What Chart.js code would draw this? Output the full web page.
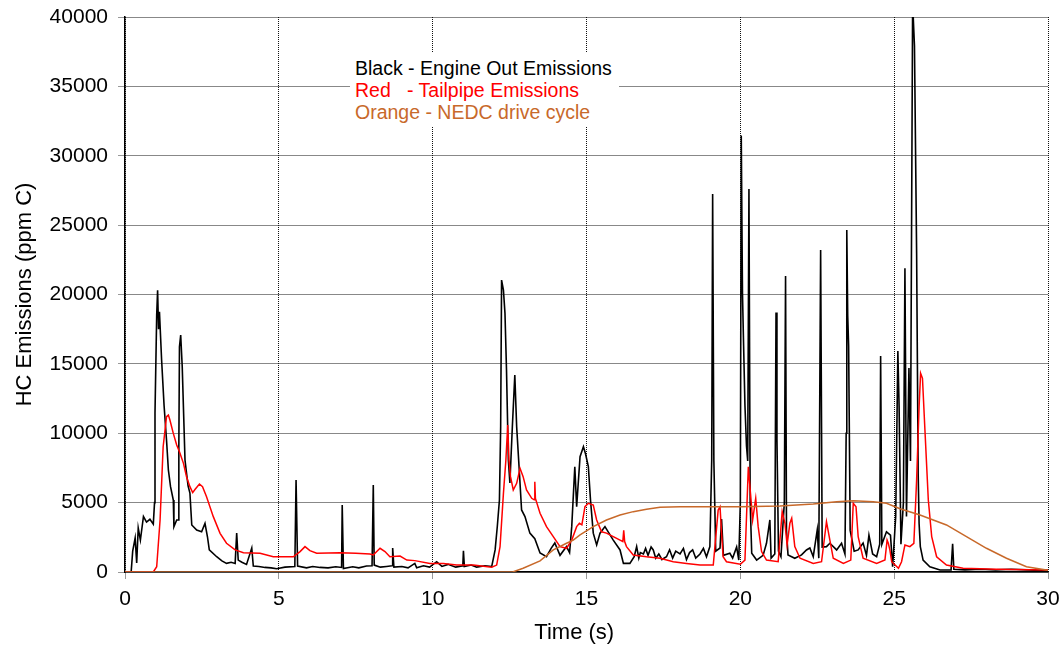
<!DOCTYPE html>
<html>
<head>
<meta charset="utf-8">
<script src="https://cdn.jsdelivr.net/npm/chart.js@4.4.1/dist/chart.umd.min.js"></script>
<style>
  body { margin: 0; background: #fff; }
  #wrap { position: relative; width: 1062px; height: 649px; }
  #notes {
    position: absolute; left: 350px; top: 53px; width: 264px;
    background: #fff; padding: 4px 0 4px 5px;
    font: 19.5px "Liberation Sans", Arial, sans-serif; line-height: 22px;
    white-space: pre;
  }
</style>
</head>
<body>
<div id="wrap">
  <canvas id="chart" width="1062" height="649"></canvas>
  <div id="notes"><div style="color:#000">Black - Engine Out Emissions</div><div style="color:#ff0000">Red   - Tailpipe Emissions</div><div style="color:#c8692a">Orange - NEDC drive cycle</div></div>
</div>
<script>
// engine out HC (black)
const engineTime = [0, 0.2, 0.25, 0.33, 0.38, 0.43, 0.5, 0.6, 0.7, 0.81, 0.92, 0.96, 0.975, 1.03, 1.06, 1.09, 1.12, 1.19, 1.27, 1.35,
  1.41, 1.48, 1.57, 1.59, 1.68, 1.73, 1.75, 1.77, 1.81, 1.86, 1.95, 2.05, 2.11, 2.17, 2.33, 2.49, 2.6, 2.68, 2.74, 2.98,
  3.15, 3.3, 3.45, 3.58, 3.63, 3.68, 3.8, 3.95, 4.12, 4.17, 4.35, 4.55, 4.75, 4.93, 5.2, 5.52, 5.56, 5.61, 5.9, 6.1,
  6.34, 6.6, 6.85, 7.04, 7.06, 7.1, 7.4, 7.6, 7.85, 8.03, 8.07, 8.1, 8.3, 8.5, 8.68, 8.7, 8.74, 9.0, 9.2, 9.42,
  9.48, 9.7, 9.9, 10.13, 10.3, 10.5, 10.75, 10.98, 11.0, 11.03, 11.25, 11.43, 11.7, 11.92, 12.03, 12.1, 12.17, 12.21, 12.24, 12.3,
  12.35, 12.4, 12.46, 12.51, 12.59, 12.67, 12.73, 12.82, 12.89, 13.0, 13.16, 13.32, 13.49, 13.7, 13.85, 13.97, 14.14, 14.35, 14.45, 14.52,
  14.62, 14.68, 14.79, 14.9, 14.97, 15.06, 15.13, 15.22, 15.33, 15.44, 15.6, 15.87, 16.09, 16.2, 16.41, 16.55, 16.63, 16.7, 16.75, 16.85,
  16.92, 17.0, 17.1, 17.17, 17.25, 17.35, 17.45, 17.6, 17.7, 17.8, 17.9, 18.04, 18.15, 18.25, 18.35, 18.45, 18.55, 18.69, 18.8, 18.9,
  19.01, 19.07, 19.1, 19.14, 19.2, 19.34, 19.39, 19.45, 19.66, 19.75, 19.88, 19.95,
  20.0, 20.03, 20.07, 20.1, 20.15, 20.2, 20.24, 20.28, 20.32, 20.37, 20.53, 20.74, 20.85, 20.96, 21.0, 21.12, 21.16, 21.19, 21.24, 21.32,
  21.43, 21.47, 21.5, 21.55, 21.77, 21.99, 22.15, 22.26, 22.37, 22.5, 22.55, 22.61, 22.66, 22.8, 22.91, 23.13, 23.29, 23.4, 23.44, 23.46,
  23.49, 23.52, 23.57, 23.7, 23.83, 23.99, 24.1, 24.18, 24.3, 24.43, 24.53, 24.56, 24.6, 24.75, 24.88, 24.95, 25.05, 25.12, 25.16, 25.22,
  25.3, 25.35, 25.4, 25.48, 25.53, 25.6, 25.66, 25.73, 25.75, 25.78, 25.81, 25.85, 25.94, 26.16, 26.49, 26.85, 26.9, 26.94, 27.3, 27.8,
  28.3, 28.8, 29.3, 30];
const engineHC = [0, 0, 1500, 2450, 650, 3170, 2300, 4000, 3600, 3800, 3450, 5000, 11450, 18500, 20300, 17500, 18760, 15280, 12000, 9500,
  7350, 6150, 5190, 3260, 3750, 3750, 9000, 16240, 17080, 14800, 8070, 6200, 5690, 3390, 3030, 2900, 3500, 2540, 1590, 1100,
  800, 620, 700, 620, 2800, 860, 700, 550, 1730, 430, 400, 330, 300, 240, 350, 400, 6630, 430, 300, 400,
  330, 300, 380, 330, 4830, 250, 380, 300, 430, 450, 6270, 500, 350, 400, 450, 1730, 350, 400, 300, 620,
  300, 450, 350, 740, 400, 550, 350, 450, 1530, 400, 500, 350, 450, 400, 1590, 3260, 5190, 10470, 21040, 20320,
  18660, 14560, 8070, 6410, 10470, 14200, 10470, 7130, 4470, 3990, 2800, 2400, 1370, 1100, 1700, 2090, 1200, 1830, 1400, 3270,
  7590, 4700, 8310, 9030, 8500, 7590, 5190, 2800, 1950, 2800, 3270, 2300, 1590, 620, 620, 1100, 1830, 1000, 1400, 1300,
  1700, 1200, 1800, 1590, 1000, 1300, 900, 1100, 1600, 1000, 1500, 1300, 1700, 900, 1400, 1600, 1000, 1300, 1700, 1100,
  1830, 8070, 27240, 8000, 1500, 1730, 3820, 1200, 1350, 1000, 1800, 860,
  5000, 31460, 20060, 16940, 12000, 9080, 8000, 27600, 5000, 1350, 860, 1200, 2070, 3750, 1000, 1300, 18700, 9590, 1500, 1100,
  5000, 21330, 3000, 1230, 990, 1230, 1590, 1730, 1100, 3030, 1000, 23200, 1800, 1830, 2070, 1590, 2070, 1300, 10000, 24650,
  18490, 16290, 3000, 1500, 1590, 2090, 1200, 2660, 1300, 1100, 2000, 15570, 2000, 2900, 2660, 380, 4000, 15930, 11960, 2000,
  5000, 21900, 4000, 14700, 8000, 41000, 37900, 22950, 16600, 7110, 3510, 1830, 860, 380, 140, 150, 2030, 200, 150, 200,
  150, 200, 150, 100];

// tailpipe HC (red)
const tailTime = [0, 0.92, 1.03, 1.14, 1.24, 1.35, 1.41, 1.46, 1.57, 1.68, 1.77, 1.9, 2.0, 2.11, 2.2, 2.28, 2.42, 2.52, 2.65, 2.87,
  3.09, 3.3, 3.58, 3.85, 4.39, 4.82, 5.47, 5.69, 5.85, 6.01, 6.23, 6.99, 7.5, 7.96, 8.07, 8.29, 8.45, 8.61, 8.94, 9.16,
  9.42, 9.91, 10.35, 10.78, 11.32, 11.92, 12.08, 12.19, 12.3, 12.38, 12.44, 12.48, 12.53, 12.62, 12.73, 12.84, 12.94, 13.05, 13.22, 13.3,
  13.32, 13.34, 13.49, 13.7, 13.92, 14.14, 14.35, 14.52, 14.68, 14.77, 14.85, 14.95, 15.06, 15.22, 15.33, 15.49, 15.65, 15.87, 16.09, 16.18,
  16.21, 16.24, 16.3, 16.52, 16.95, 17.39, 17.82, 18.25, 18.69, 19.07, 19.12, 19.28, 19.34, 19.39, 19.44, 19.55, 20.0, 20.15, 20.26, 20.33,
  20.4, 20.5, 20.58, 20.69, 20.85, 21.23, 21.36, 21.45, 21.52, 21.61, 21.67, 21.77, 21.94, 22.37, 22.64, 22.8, 22.91, 23.02, 23.35, 23.59,
  23.67, 23.76, 23.83, 23.99, 24.43, 24.7, 24.77, 24.81, 24.86, 24.92, 25.14, 25.24, 25.35, 25.51, 25.64, 25.73, 25.81, 25.86, 25.92, 26.0,
  26.11, 26.22, 26.38, 26.7, 27.24, 28.33, 29.95, 30];
const tailHC = [0, 0, 380, 3750, 9030, 11190, 11310, 10950, 9990, 9150, 8670, 7830, 6870, 6150, 5720, 5960, 6340, 6150, 5430, 3990,
  2790, 2070, 1590, 1390, 1350, 1100, 1100, 1470, 1830, 1540, 1350, 1390, 1350, 1300, 1230, 1710, 1470, 1100, 1150, 860,
  820, 620, 620, 500, 500, 340, 500, 1830, 5670, 8070, 10590, 8070, 6870, 5910, 6390, 7470, 6870, 5910, 5310, 5200,
  6500, 5300, 4230, 3270, 2550, 1830, 1710, 2300, 3270, 3510, 3400, 4710, 4950, 4830, 3750, 2900, 2800, 2550, 2300, 2200,
  3000, 2200, 1830, 1230, 1100, 990, 740, 620, 500, 500, 500, 4470, 4700, 2800, 1100, 740, 560, 860, 7590, 5670,
  3750, 5310, 3270, 1470, 860, 740, 4350, 3510, 1950, 3510, 3870, 1830, 990, 620, 740, 3630, 2300, 990, 620, 860,
  4950, 4700, 2550, 990, 620, 860, 2300, 2070, 1590, 740, 270, 740, 1950, 1830, 2070, 6630, 11910, 14320, 13960, 10230,
  5190, 2550, 1100, 500, 270, 200, 150, 150];

// NEDC drive cycle (orange)
const cycleTime = [0, 12.6, 12.94, 13.49, 13.92, 14.35, 14.57, 14.79, 15.22, 15.65, 16.09, 16.52, 16.95, 17.39, 18.04, 19.34, 20.0, 21.29, 22.37, 23.13,
  23.67, 24.32, 24.75, 25.19, 25.84, 26.7, 27.35, 28.0, 28.65, 29.3, 29.95, 30];
const cycleHC = [0, 0, 270, 800, 1590, 2070, 2300, 2670, 3270, 3750, 4110, 4350, 4520, 4660, 4700, 4700, 4700, 4760, 4900, 5070,
  5140, 5070, 4950, 4560, 4110, 3390, 2550, 1710, 990, 380, 140, 130];

const yTicks = [0, 5000, 10000, 15000, 20000, 25000, 30000, 35000, 40000];
const xTicks = [0, 5, 10, 15, 20, 25, 30];

function toPoints(xs, ys) {
    return xs.map((x, i) => ({ x: x, y: ys[i] }));
}

const FONT = '"Liberation Sans", Arial, sans-serif';
Chart.defaults.color = '#000';
Chart.defaults.font.family = FONT;

const gridOpts = {
    color: '#111',
    lineWidth: 1,
    tickColor: '#999',
    tickLength: 7,
    tickBorderDash: []
};

new Chart(document.getElementById('chart').getContext('2d'), {
    type: 'line',
    data: {
        datasets: [{
            label: 'Orange - NEDC drive cycle',
            data: toPoints(cycleTime, cycleHC),
            borderColor: '#c8692a',
            borderWidth: 1.5,
            pointRadius: 0,
            fill: false,
            order: 1
        }, {
            label: 'Red - Tailpipe Emissions',
            data: toPoints(tailTime, tailHC),
            borderColor: '#ff0000',
            borderWidth: 1.5,
            pointRadius: 0,
            fill: false,
            order: 2
        }, {
            label: 'Black - Engine Out Emissions',
            data: toPoints(engineTime, engineHC),
            borderColor: '#000000',
            borderWidth: 1.6,
            pointRadius: 0,
            fill: false,
            order: 3
        }]
    },
    options: {
        responsive: false,
        animation: false,
        layout: { padding: { top: 17, right: 14, left: 0, bottom: 0 } },
        plugins: { legend: { display: false }, tooltip: { enabled: false } },
        scales: {
            x: {
                type: 'linear',
                min: 0,
                max: 30,
                afterFit: s => { s.height = 77; s.paddingLeft = 0; s.paddingRight = 0; },
                afterBuildTicks: s => { s.ticks = xTicks.map(v => ({ value: v })); },
                ticks: { font: { size: 21 }, padding: 8, maxRotation: 0 },
                grid: gridOpts,
                border: { display: true, color: '#000', width: 1.5, dash: [1, 1] },
                // trailing spaces nudge the title left like the original
                title: { display: true, text: 'Time (s)    ', font: { size: 22 }, padding: { top: 2, bottom: 3 } }
            },
            y: {
                min: 0,
                max: 40000,
                afterFit: s => { s.width = 125; s.paddingTop = 0; s.paddingBottom = 0; },
                afterBuildTicks: s => { s.ticks = yTicks.map(v => ({ value: v })); },
                ticks: { font: { size: 21 }, padding: 10, callback: v => String(v) },
                grid: gridOpts,
                border: { display: true, color: '#000', width: 1.5, dash: [1, 1] },
                title: { display: true, text: 'HC Emissions (ppm C)', font: { size: 22 }, padding: { top: 12, bottom: 0 } }
            }
        }
    }
});
</script>
</body>
</html>
